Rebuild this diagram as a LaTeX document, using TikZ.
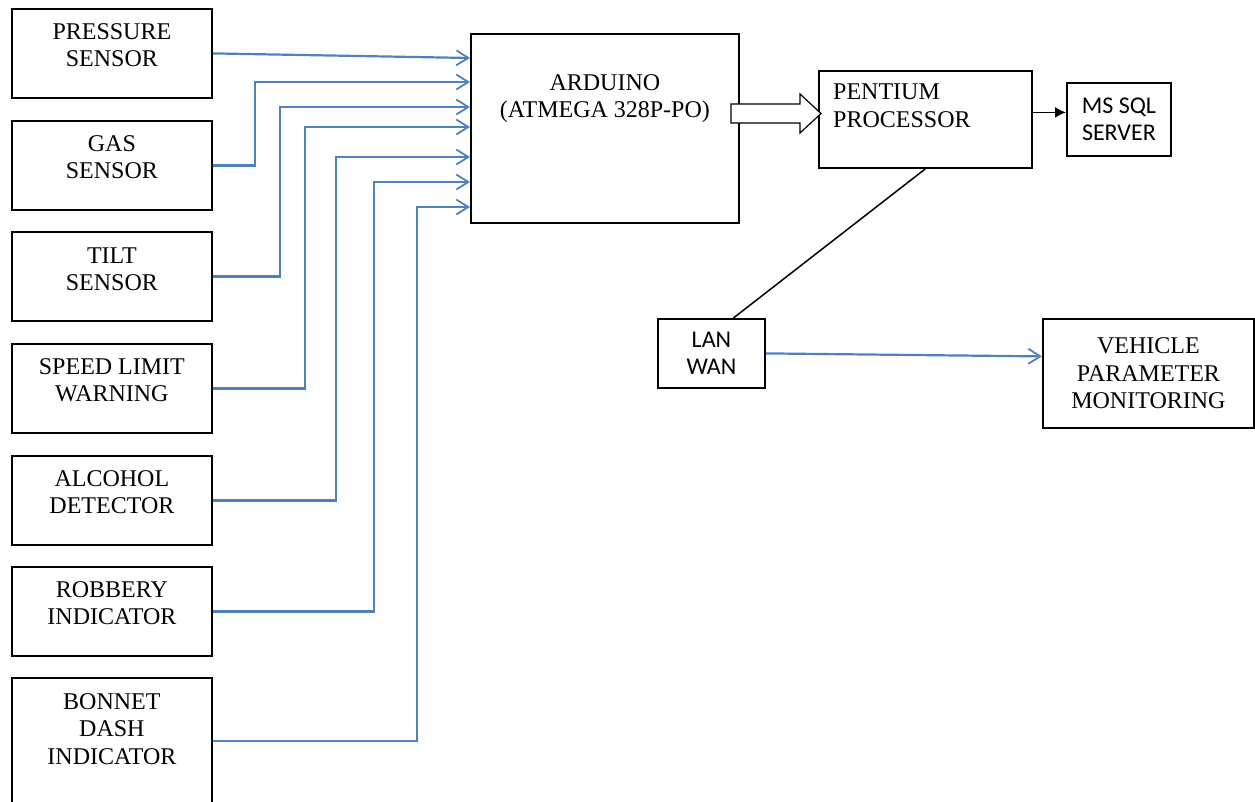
\documentclass[tikz,border=0pt]{standalone}
\usepackage{fontspec}
\setmainfont{Liberation Serif}
\newfontfamily\calfont{Carlito}
\usetikzlibrary{arrows.meta}
\definecolor{feedblue}{RGB}{79,129,189}
\tikzset{
  blk/.style={draw,line width=1.8pt,inner sep=0pt,anchor=north west},
  sensorbox/.style={blk,minimum width=200,minimum height=89},
  lbl/.style={font=\fontsize{24}{27.5}\selectfont,align=center,inner sep=0pt},
  sanslbl/.style={font=\calfont\fontsize{24}{27}\selectfont,align=center},
  feed/.style={feedblue,line width=2.2pt,-{Straight Barb[length=12pt,width=15pt,line width=1.8pt]}},
}
\begin{document}
\begin{tikzpicture}[x=1pt,y=-1pt]
  \useasboundingbox (0,0) rectangle (1255,801);
  % sensors
  \node[sensorbox] (s1) at (11,8) {};
  \node[sensorbox] (s2) at (11,120) {};
  \node[sensorbox] (s3) at (11,231) {};
  \node[sensorbox] (s4) at (11,343) {};
  \node[sensorbox] (s5) at (11,455) {};
  \node[sensorbox] (s6) at (11,566) {};
  \node[sensorbox,minimum height=126] (s7) at (11,677) {};
  \node[lbl] (t1) at ([yshift=8]s1.center) {PRESSURE\\SENSOR};
  \node[lbl] (t2) at ([yshift=8]s2.center) {GAS\\SENSOR};
  \node[lbl] (t3) at ([yshift=7]s3.center) {TILT\\SENSOR};
  \node[lbl] (t4) at ([yshift=8]s4.center) {SPEED LIMIT\\WARNING};
  \node[lbl] (t5) at ([yshift=8]s5.center) {ALCOHOL\\DETECTOR};
  \node[lbl] (t6) at ([yshift=8]s6.center) {ROBBERY\\INDICATOR};
  \node[lbl] (t7) at ([yshift=12]s7.center) {BONNET\\DASH\\INDICATOR};
  % controller and back end
  \node[blk,minimum width=268,minimum height=189] (ard) at (470,33) {};
  \node[lbl,anchor=north] (ardtxt) at ([yshift=-41]ard.north) {ARDUINO\\(ATMEGA 328P-PO)};
  \node[blk,minimum width=213,minimum height=97] (pen) at (818,70) {};
  \node[lbl,align=left,anchor=north west] (pentxt) at ([xshift=15,yshift=-14]pen.north west) {PENTIUM\\PROCESSOR};
  \node[blk,sanslbl,minimum width=104,minimum height=73] (sql) at (1066,82) {MS SQL\\SERVER};
  \node[blk,sanslbl,minimum width=107,minimum height=69] (lan) at (657,318) {LAN\\WAN};
  \node[blk,lbl,minimum width=211,minimum height=109] (veh) at (1042,318) {VEHICLE\\PARAMETER\\MONITORING};
  % inputs on the controller
  \foreach \i/\y in {1/58,2/82,3/107,4/127,5/157,6/182,7/207}
    \coordinate (in\i) at (470,\y);
  \draw[feed] (s1.east) -- (in1);
  \foreach \i/\dx in {2/42,3/67,4/92,5/123,6/161,7/204}
    \draw[feed] (s\i.east) -- ++(\dx,0) |- (in\i);
  % bus arrow
  \draw[line width=1.2pt,fill=white] (731,104) -- (800,104) -- (800,94) -- (821,113.5)
    -- (800,133) -- (800,123) -- (731,123) -- cycle;
  \draw[line width=1.8pt,-{Latex[length=11pt,width=11pt]}] ([yshift=7]pen.east) -- ([yshift=7]sql.west);
  \draw[line width=1.5pt] (pen.south) -- ([xshift=22]lan.north);
  \draw[feed] (lan.east) -- ([yshift=17]veh.west);
\end{tikzpicture}
\end{document}
